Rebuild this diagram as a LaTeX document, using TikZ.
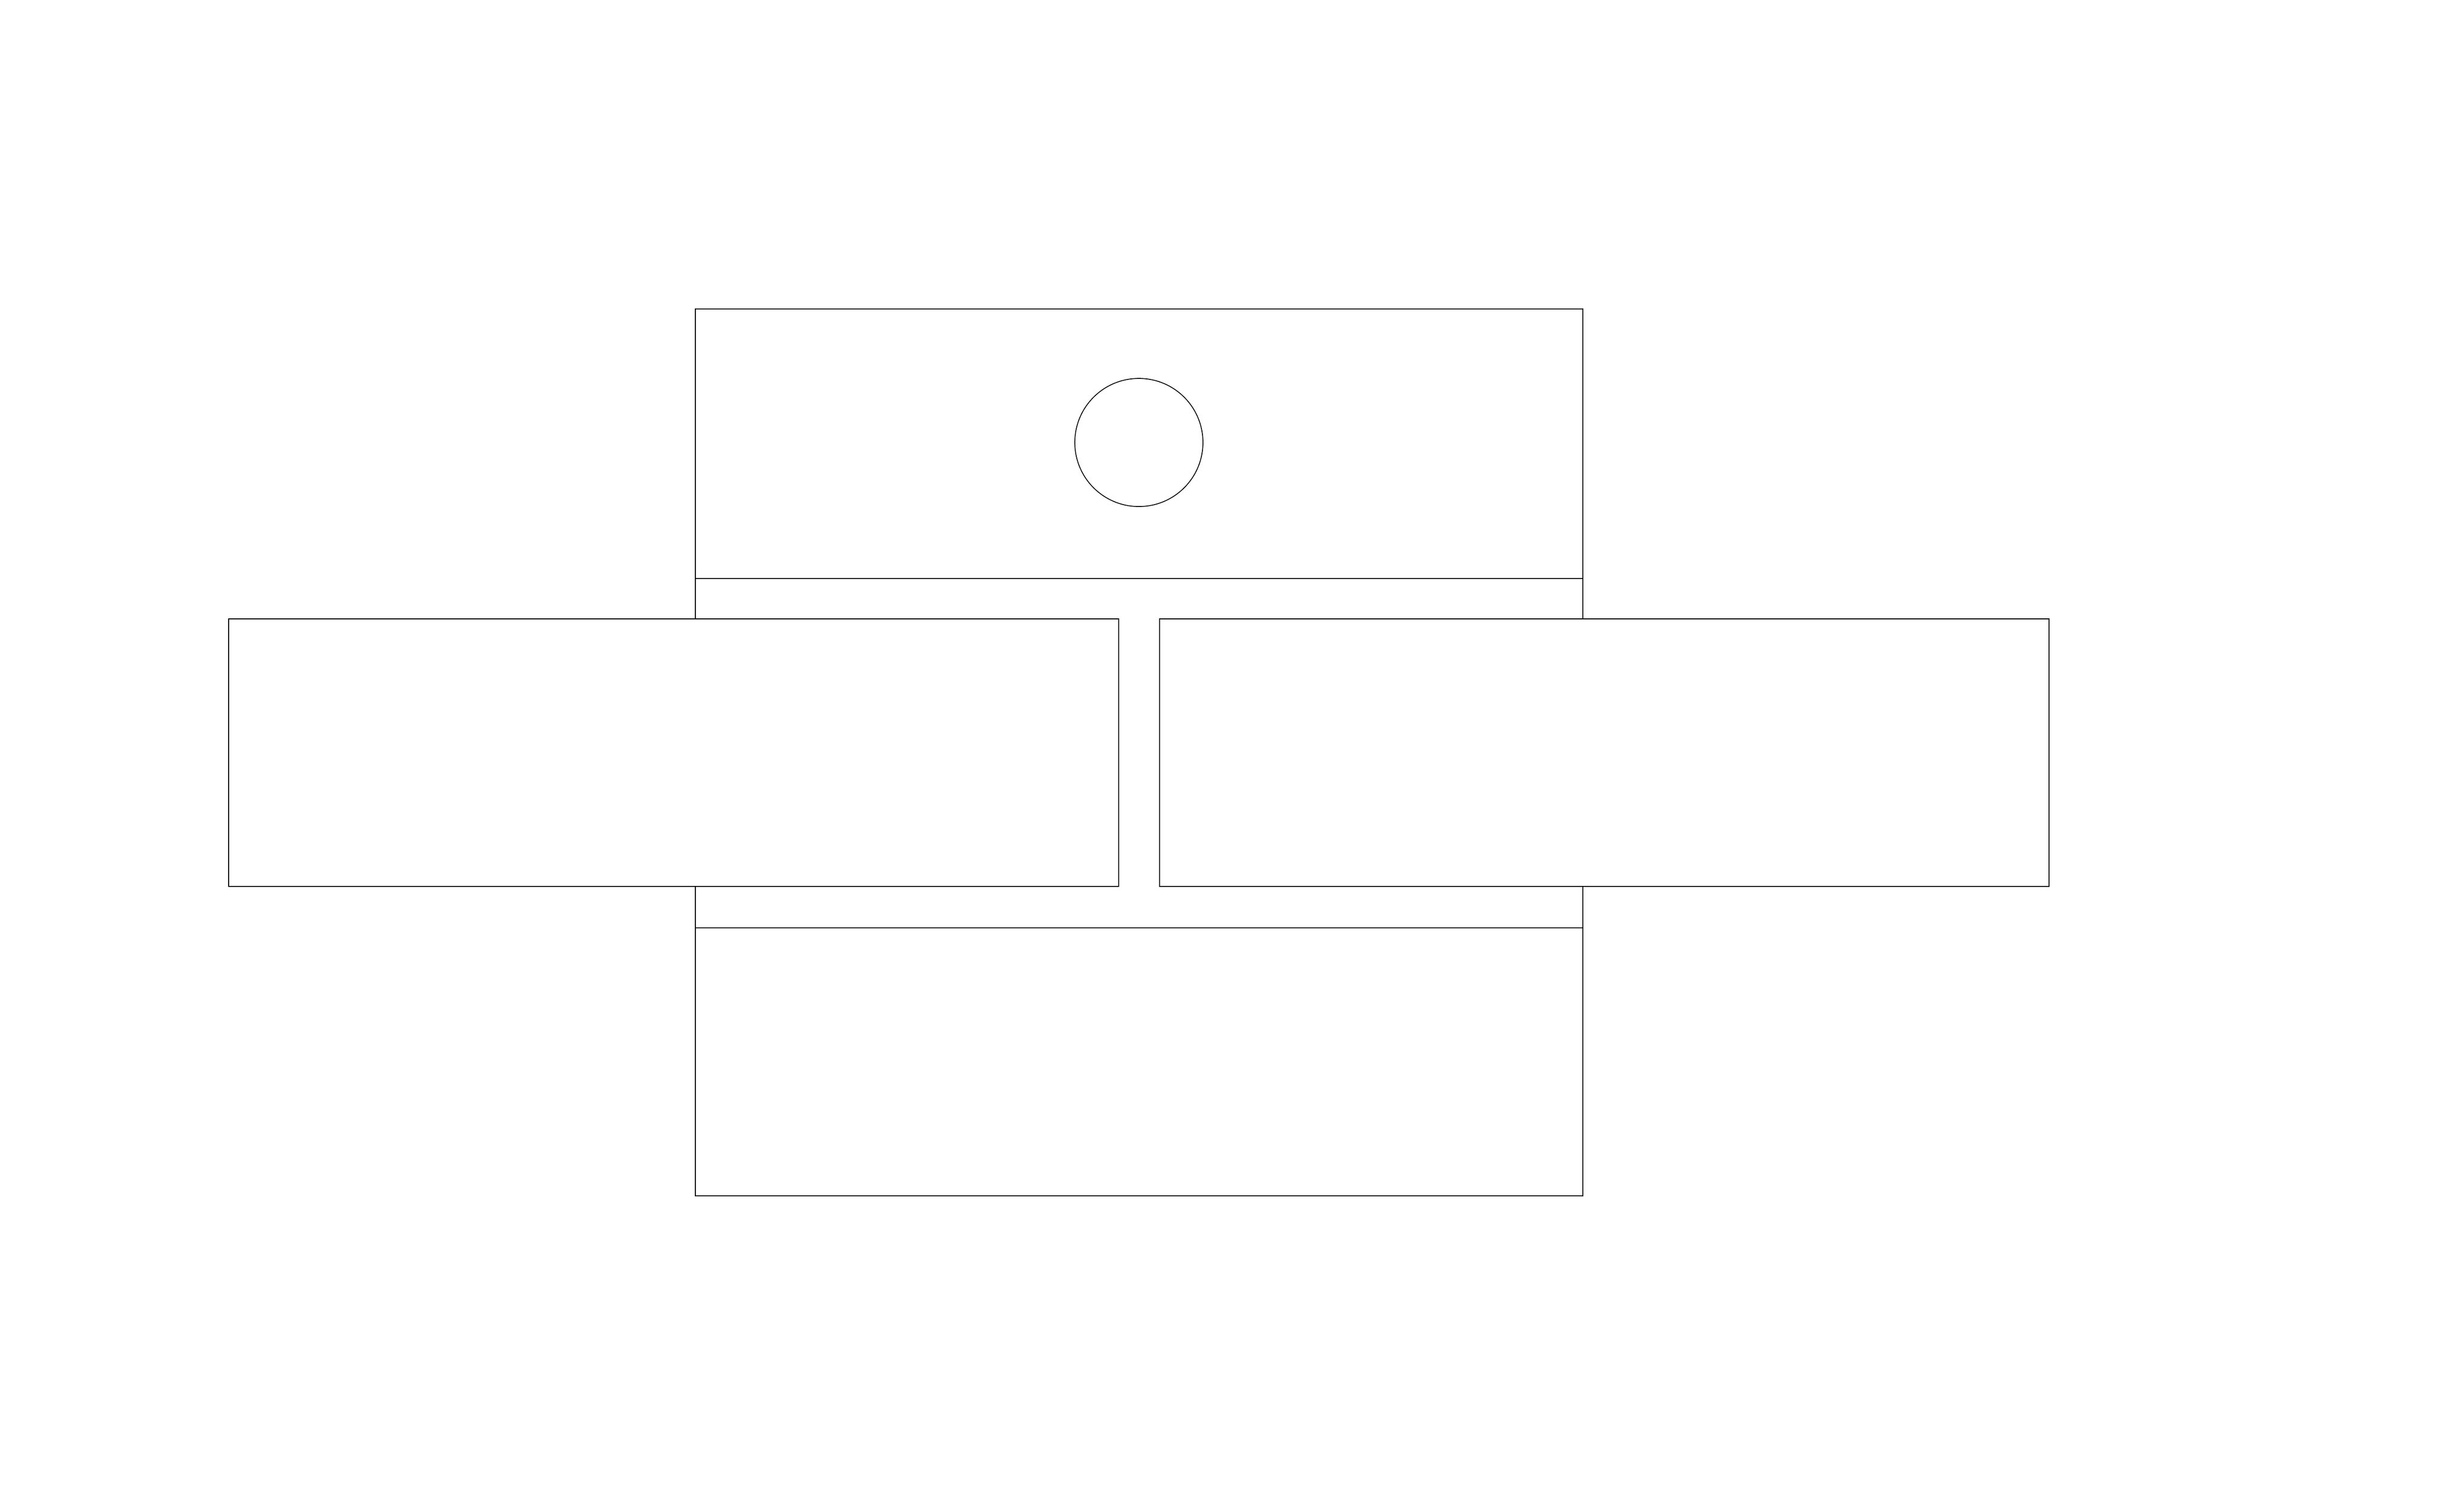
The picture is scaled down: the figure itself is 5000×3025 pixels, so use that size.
\documentclass[tikz,border=0pt]{standalone}
\begin{document}
\begin{tikzpicture}[x=0.1pt,y=-0.1pt,
  outline/.style={draw=black,line width=0.17pt},
  panel/.style={outline,fill=white}]
\useasboundingbox (0,0) rectangle (5000,3025);
% central column
\draw[outline] (1411,627) rectangle (3212,2427);
\coordinate (upL) at (1411,1174);
\coordinate (upR) at (3212,1174);
\coordinate (loL) at (1411,1883);
\coordinate (loR) at (3212,1883);
\draw[outline] (upL) -- (upR);
\draw[outline] (loL) -- (loR);
% circle in top part
\draw[outline] (2311,898) circle [radius=130];
% side panels
\draw[panel] (464,1256) rectangle (2270,1799);
\draw[panel] (2353,1256) rectangle (4158,1799);
\end{tikzpicture}
\end{document}
